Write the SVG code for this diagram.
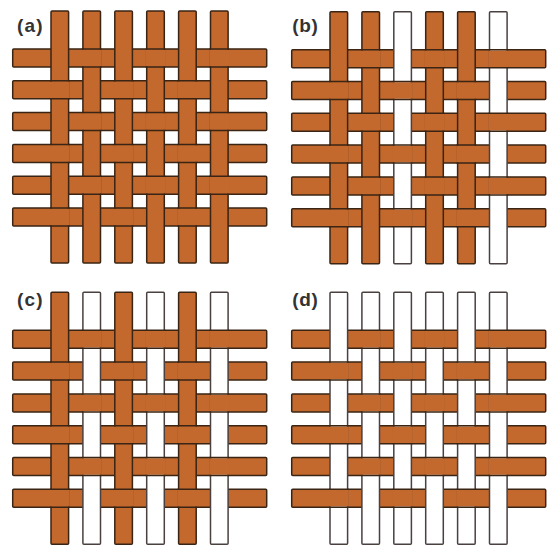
<svg xmlns="http://www.w3.org/2000/svg" xmlns:xlink="http://www.w3.org/1999/xlink" width="548" height="546" viewBox="0 0 548 546">
<style>
.o{fill:#c3692d;stroke:#3a2414;stroke-width:1.5}
.w{fill:#ffffff;stroke:#4a4040;stroke-width:1.5}
.pf{fill:#c3692d;stroke:none}
.pl{fill:none;stroke:#3a2414;stroke-width:1.5}
.lbl{font-family:"Liberation Sans",Arial,sans-serif;font-weight:bold;font-size:19px;fill:#333333}
</style>
<defs>
<g id="hz">
<rect class="o" x="12.7" y="49" width="254" height="18" rx="1"/>
<rect class="o" x="12.7" y="80.8" width="254" height="18" rx="1"/>
<rect class="o" x="12.7" y="112.6" width="254" height="18" rx="1"/>
<rect class="o" x="12.7" y="144.4" width="254" height="18" rx="1"/>
<rect class="o" x="12.7" y="176.2" width="254" height="18" rx="1"/>
<rect class="o" x="12.7" y="208" width="254" height="18" rx="1"/>
</g>
<g id="patch">
<path class="pf" d="M81.9 49.75h19.6v16.5h-19.6z M145.7 49.75h19.6v16.5h-19.6z M209.5 49.75h19.6v16.5h-19.6z
M50 81.55h19.6v16.5h-19.6z M113.8 81.55h19.6v16.5h-19.6z M177.6 81.55h19.6v16.5h-19.6z
M81.9 113.35h19.6v16.5h-19.6z M145.7 113.35h19.6v16.5h-19.6z M209.5 113.35h19.6v16.5h-19.6z
M50 145.15h19.6v16.5h-19.6z M113.8 145.15h19.6v16.5h-19.6z M177.6 145.15h19.6v16.5h-19.6z
M81.9 176.95h19.6v16.5h-19.6z M145.7 176.95h19.6v16.5h-19.6z M209.5 176.95h19.6v16.5h-19.6z
M50 208.75h19.6v16.5h-19.6z M113.8 208.75h19.6v16.5h-19.6z M177.6 208.75h19.6v16.5h-19.6z"/>
<path class="pl" d="M81.9 49h19.6M81.9 67h19.6 M145.7 49h19.6M145.7 67h19.6 M209.5 49h19.6M209.5 67h19.6
M50 80.8h19.6M50 98.8h19.6 M113.8 80.8h19.6M113.8 98.8h19.6 M177.6 80.8h19.6M177.6 98.8h19.6
M81.9 112.6h19.6M81.9 130.6h19.6 M145.7 112.6h19.6M145.7 130.6h19.6 M209.5 112.6h19.6M209.5 130.6h19.6
M50 144.4h19.6M50 162.4h19.6 M113.8 144.4h19.6M113.8 162.4h19.6 M177.6 144.4h19.6M177.6 162.4h19.6
M81.9 176.2h19.6M81.9 194.2h19.6 M145.7 176.2h19.6M145.7 194.2h19.6 M209.5 176.2h19.6M209.5 194.2h19.6
M50 208h19.6M50 226h19.6 M113.8 208h19.6M113.8 226h19.6 M177.6 208h19.6M177.6 226h19.6"/>
</g>
</defs>
<rect x="0" y="0" width="548" height="546" fill="#ffffff"/>
<g id="panel-a">
<use xlink:href="#hz"/>
<rect class="o" x="51" y="11" width="17.6" height="252" rx="1"/>
<rect class="o" x="82.9" y="11" width="17.6" height="252" rx="1"/>
<rect class="o" x="114.8" y="11" width="17.6" height="252" rx="1"/>
<rect class="o" x="146.7" y="11" width="17.6" height="252" rx="1"/>
<rect class="o" x="178.6" y="11" width="17.6" height="252" rx="1"/>
<rect class="o" x="210.5" y="11" width="17.6" height="252" rx="1"/>
<use xlink:href="#patch"/>
<text class="lbl" x="17" y="32" textLength="25.5" lengthAdjust="spacing">(a)</text>
</g>
<g id="panel-b" transform="translate(279,0.7)">
<use xlink:href="#hz"/>
<rect class="o" x="51" y="11" width="17.6" height="252" rx="1"/>
<rect class="o" x="82.9" y="11" width="17.6" height="252" rx="1"/>
<rect class="w" x="114.8" y="11" width="17.6" height="252" rx="1"/>
<rect class="o" x="146.7" y="11" width="17.6" height="252" rx="1"/>
<rect class="o" x="178.6" y="11" width="17.6" height="252" rx="1"/>
<rect class="w" x="210.5" y="11" width="17.6" height="252" rx="1"/>
<use xlink:href="#patch"/>
<text class="lbl" x="13.3" y="31.5" textLength="25.5" lengthAdjust="spacing">(b)</text>
</g>
<g id="panel-c" transform="translate(0,281.3)">
<use xlink:href="#hz"/>
<rect class="o" x="51" y="11" width="17.6" height="252" rx="1"/>
<rect class="w" x="82.9" y="11" width="17.6" height="252" rx="1"/>
<rect class="o" x="114.8" y="11" width="17.6" height="252" rx="1"/>
<rect class="w" x="146.7" y="11" width="17.6" height="252" rx="1"/>
<rect class="o" x="178.6" y="11" width="17.6" height="252" rx="1"/>
<rect class="w" x="210.5" y="11" width="17.6" height="252" rx="1"/>
<use xlink:href="#patch"/>
<text class="lbl" x="17" y="24.5" textLength="25.5" lengthAdjust="spacing">(c)</text>
</g>
<g id="panel-d" transform="translate(279,281.3)">
<use xlink:href="#hz"/>
<rect class="w" x="51" y="11" width="17.6" height="252" rx="1"/>
<rect class="w" x="82.9" y="11" width="17.6" height="252" rx="1"/>
<rect class="w" x="114.8" y="11" width="17.6" height="252" rx="1"/>
<rect class="w" x="146.7" y="11" width="17.6" height="252" rx="1"/>
<rect class="w" x="178.6" y="11" width="17.6" height="252" rx="1"/>
<rect class="w" x="210.5" y="11" width="17.6" height="252" rx="1"/>
<use xlink:href="#patch"/>
<text class="lbl" x="13.3" y="24.5" textLength="25.5" lengthAdjust="spacing">(d)</text>
</g>
</svg>
